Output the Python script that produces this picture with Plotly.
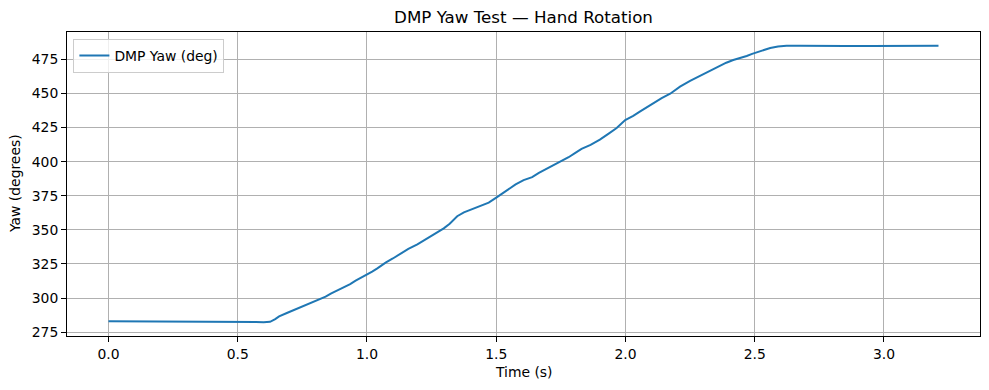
import plotly.graph_objects as go

time_s = [0.0, 0.1, 0.2, 0.3, 0.4, 0.5, 0.54, 0.57, 0.60, 0.625, 0.645, 0.66, 0.69,
          0.72, 0.75, 0.78, 0.81, 0.84, 0.86, 0.89, 0.911, 0.935, 0.956, 0.978, 0.999,
          1.020, 1.040, 1.055, 1.072, 1.100, 1.130, 1.160, 1.195, 1.220, 1.246, 1.270,
          1.297, 1.320, 1.349, 1.375, 1.407, 1.440, 1.471, 1.503, 1.525, 1.548, 1.575,
          1.606, 1.639, 1.665, 1.690, 1.720, 1.754, 1.780, 1.806, 1.830, 1.865, 1.901,
          1.935, 1.966, 1.999, 2.030, 2.057, 2.085, 2.108, 2.140, 2.173, 2.211, 2.250,
          2.288, 2.314, 2.340, 2.366, 2.390, 2.417, 2.445, 2.469, 2.490, 2.507, 2.530,
          2.560, 2.590, 2.623, 2.675, 2.75, 2.85, 2.95, 3.05, 3.15, 3.211]
yaw_deg = [283.0, 283.0, 282.95, 282.9, 282.9, 282.9, 282.8, 282.5, 282.3, 282.6, 284.5,
           286.5, 289.0, 291.5, 293.8, 296.3, 298.6, 301.0, 303.3, 306.0, 307.8, 310.2,
           312.7, 314.8, 317.1, 319.3, 321.7, 324.0, 326.0, 329.0, 332.6, 336.0, 339.3,
           342.2, 344.8, 347.8, 351.1, 354.5, 360.0, 362.8, 365.0, 367.5, 369.9, 374.0,
           377.0, 380.1, 383.3, 386.4, 388.6, 391.8, 394.2, 397.0, 400.3, 403.2, 406.4,
           409.3, 412.3, 416.1, 420.5, 424.6, 430.5, 433.5, 436.8, 440.2, 442.9, 446.5,
           449.8, 455.0, 459.2, 462.8, 465.5, 468.0, 470.3, 472.5, 474.5, 476.0, 477.4,
           479.0, 480.1, 481.5, 483.3, 484.4, 484.9, 484.9, 484.6, 484.7, 484.8, 484.8,
           484.9, 484.9]

title_text = "DMP Yaw Test — Hand Rotation"
x_label = "Time (s)"
y_label = "Yaw (degrees)"
series_name = "DMP Yaw (deg)"

FONT = "DejaVu Sans"
OFF = 8  # default page body margin
W, H = 989 - OFF, 390 - OFF
ML, MR, MT, MB = 59, 9, 24, 54
PW, PH = W - ML - MR, H - MT - MB

def padded(vals, frac=0.05):
    lo, hi = min(vals), max(vals)
    m = (hi - lo) * frac
    return [lo - m, hi + m]

fig = go.Figure()
fig.add_trace(go.Scatter(x=time_s, y=yaw_deg, mode="lines", name=series_name,
                         line=dict(color="#1f77b4", width=2)))

axis_common = dict(
    showline=True, linecolor="black", linewidth=1, mirror=True,
    ticks="outside", ticklen=5, tickwidth=1, tickcolor="black",
    showgrid=True, gridcolor="#b0b0b0", gridwidth=1, zeroline=False,
    automargin=False,
    tickfont=dict(family=FONT, size=13.9, color="black"),
)

fig.update_layout(
    width=W, height=H,
    margin=dict(l=ML, r=MR, t=MT, b=MB, autoexpand=False),
    paper_bgcolor="white", plot_bgcolor="white",
    font=dict(family=FONT, size=13.9, color="black"),
    title=dict(text=title_text, x=(ML + PW / 2) / W, xanchor="center",
               y=1 - (17 - OFF) / H, yanchor="middle",
               font=dict(family=FONT, size=16.7, color="black")),
    xaxis=dict(range=padded(time_s), dtick=0.5, tick0=0, tickformat=".1f", **axis_common),
    yaxis=dict(range=padded(yaw_deg), dtick=25, tick0=275, **axis_common),
    showlegend=True,
    legend=dict(x=0.007, y=0.977, xanchor="left", yanchor="top",
                bgcolor="rgba(255,255,255,0.8)", bordercolor="#cccccc", borderwidth=1,
                itemwidth=30, font=dict(family=FONT, size=13.9, color="black")),
    annotations=[
        dict(text=x_label, xref="paper", yref="paper", x=0.5,
             y=-(372 - OFF - (MT + PH)) / PH,
             xanchor="center", yanchor="middle", showarrow=False,
             font=dict(family=FONT, size=13.9, color="black")),
        dict(text=y_label, xref="paper", yref="paper", x=(15 - OFF - ML) / PW, y=0.5,
             xanchor="center", yanchor="middle", textangle=-90, showarrow=False,
             font=dict(family=FONT, size=13.9, color="black")),
    ],
)

fig.write_html("out.html")
